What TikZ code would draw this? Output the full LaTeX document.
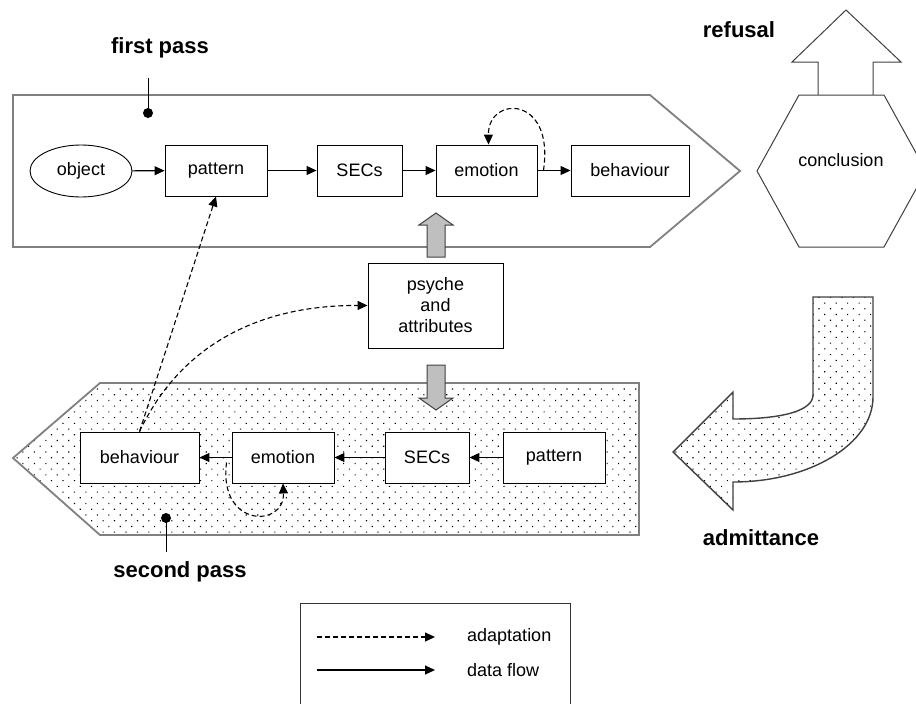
\documentclass[tikz,border=0pt]{standalone}
\usepackage{fontspec}
\setmainfont{Liberation Sans}
\usetikzlibrary{shapes.geometric, arrows.meta, patterns.meta, positioning}
\newcommand{\boxfont}{\fontsize{18}{21}\selectfont}
\newcommand{\passfont}{\fontsize{22}{26}\selectfont\bfseries}

\begin{document}
\begin{tikzpicture}[x=1pt, y=-1pt,
    stage/.style={draw, line width=0.9pt, fill=white, minimum width=102pt, minimum height=51pt, inner sep=0pt, font=\boxfont},
    flow/.style={draw, line width=1.1pt, -{Triangle[length=10pt, width=9pt]}},
    adapt/.style={flow, dash pattern=on 5pt off 3pt},
    band/.style={draw=black!50, line width=1.8pt},
    dotfill/.style={pattern={Dots[distance=8.1pt, angle=45, radius=0.8pt]}},
    blockarrow/.style={draw=black!75, line width=1pt},
    passlabel/.style={font=\passfont},
    pin/.style={fill, circle, inner sep=0pt, minimum size=10pt}
]
    \useasboundingbox (0,0) rectangle (916,704);

    % the two passes
    \draw[band] (13,95) -- (650,95) -- (740,171) -- (650,247) -- (13,247) -- cycle;
    \draw[band, dotfill] (13,458) -- (100,383) -- (639,383) -- (639,535) -- (100,535) -- cycle;

    % conclusion, refusal and admittance
    \draw[blockarrow, fill=white] (818,95) -- (818,62) -- (792,62) -- (846,10) -- (901,62) -- (873,62) -- (873,95);
    \draw[blockarrow, fill=white] (799,95) -- (884,95) -- (926,171) -- (884,247) -- (799,247) -- (757,171) -- cycle;
    \draw[blockarrow, line width=1.4pt, dotfill] (813,297) -- (873,297) -- (873,397)
        .. controls (873,444) and (810,482) .. (733,482) -- (733,510) -- (673,452) -- (733,392) -- (733,419)
        .. controls (785,419) and (813,410) .. (813,395) -- cycle;
    \node[font=\boxfont] (concl) at (841,160) {conclusion};

    % psyche feeds both passes
    \draw[blockarrow, fill=black!25] (427,257) -- (427,225) -- (419,225) -- (436,213) -- (453,225) -- (445,225) -- (445,257) -- cycle;
    \draw[blockarrow, fill=black!25] (427,365) -- (427,398) -- (419,398) -- (436,410) -- (453,398) -- (445,398) -- (445,365) -- cycle;
    \node[stage, minimum width=135pt, minimum height=85pt, align=center] (psy) at (435.5,305.5) {psyche\\and\\attributes};

    \node[stage, shape=ellipse, minimum height=52pt] (obj) at (81,171) {object};
    \node[stage] (pat1) at (216,170.5) {pattern};
    \node[stage, minimum width=85pt] (sec1) at (359.5,170.5) {SECs};
    \node[stage, minimum width=101pt] (emo1) at (486.5,170.5) {emotion};
    \node[stage, minimum width=118pt] (beh1) at (630,170.5) {behaviour};

    \node[stage, minimum width=119pt] (beh2) at (139.5,457.5) {behaviour};
    \node[stage] (emo2) at (283,457.5) {emotion};
    \node[stage, minimum width=84pt] (sec2) at (427,457.5) {SECs};
    \node[stage] (pat2) at (554,457.5) {pattern};

    \draw[flow] (obj) -- (pat1);
    \draw[flow] (pat1) -- (sec1);
    \draw[flow] (sec1) -- (emo1);
    \draw[flow] (emo1) -- (beh1);
    \draw[flow] (pat2) -- (sec2);
    \draw[flow] (sec2) -- (emo2);
    \draw[flow] (emo2) -- (beh2);

    \draw[adapt] ([xshift=6pt]emo1.east) .. controls (555,95) and (488,95) .. ([xshift=2pt]emo1.north);
    \draw[adapt] ([xshift=-5pt, yshift=-5pt]emo2.west) .. controls (218,528) and (285,528) .. (emo2.south);
    \draw[adapt] (beh2.north) -- (pat1.south);
    \draw[adapt] (beh2.north) .. controls (183,340) and (266,305) .. (psy.west);

    % labels
    \node[passlabel] (first) at (160,48) {first pass};
    \node[pin] (firstpin) at (148,113) {};
    \coordinate (firsttop) at (148,78);
    \draw[line width=1pt] (firstpin.center) -- (firsttop);
    \node[passlabel] (second) at (180,572) {second pass};
    \node[pin] (secondpin) at (166,518) {};
    \coordinate (secondbot) at (166,552);
    \draw[line width=1pt] (secondpin.center) -- (secondbot);
    \node[passlabel] (refusal) at (739,30) {refusal};
    \node[passlabel] (admit) at (761,538) {admittance};

    % legend
    \draw[line width=1pt, draw=black!80] (300,720) -- (300,603) -- (570,603) -- (570,720);
    \coordinate (adaptfrom) at (317,637);
    \coordinate (adaptto) at (435,637);
    \coordinate (flowfrom) at (317,670);
    \coordinate (flowto) at (435,670);
    \draw[adapt] (adaptfrom) -- (adaptto);
    \draw[flow] (flowfrom) -- (flowto);
    \node[font=\boxfont, anchor=west, inner sep=0pt] (adaptkey) at (467,637) {adaptation};
    \node[font=\boxfont, anchor=west, inner sep=0pt] (flowkey) at (467,670) {data flow};
\end{tikzpicture}
\end{document}
